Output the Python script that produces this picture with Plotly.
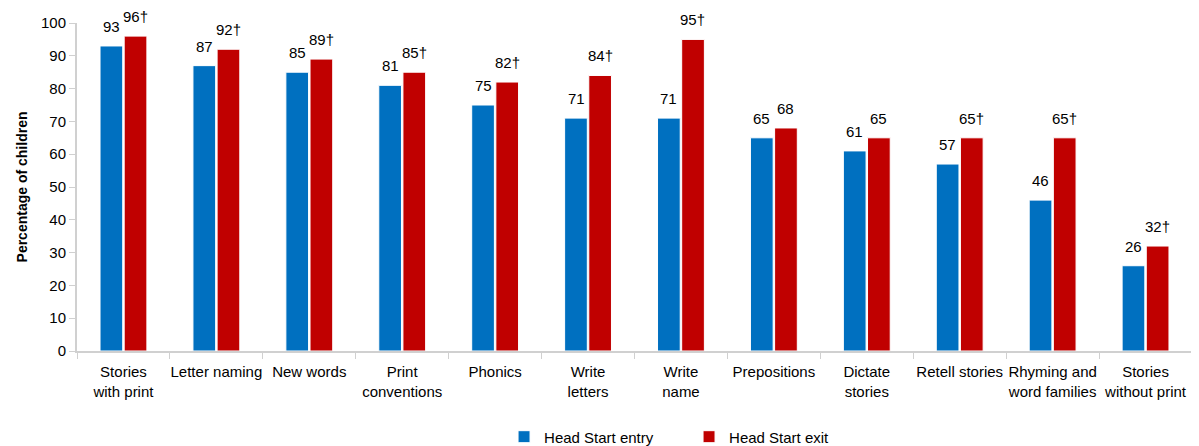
import plotly.graph_objects as go

categories = ["Stories<br>with print", "Letter naming", "New words", "Print<br>conventions",
              "Phonics", "Write<br>letters", "Write<br>name", "Prepositions",
              "Dictate<br>stories", "Retell stories", "Rhyming and<br>word families",
              "Stories<br>without print"]
entry = [93, 87, 85, 81, 75, 71, 71, 65, 61, 57, 46, 26]
exit_ = [96, 92, 89, 85, 82, 84, 95, 68, 65, 65, 65, 32]
exit_sig = [True, True, True, True, True, True, True, False, False, True, True, True]

entry_text = [str(v) for v in entry]
exit_text = [f"{v}†" if s else str(v) for v, s in zip(exit_, exit_sig)]

font = "Liberation Sans, Arial, sans-serif"

fig = go.Figure()
fig.add_trace(go.Bar(x=categories, y=entry, name="Head Start entry",
                     marker=dict(color="#0070C0", line=dict(color="white", width=1))))
fig.add_trace(go.Bar(x=categories, y=exit_, name="Head Start exit",
                     marker=dict(color="#C00000", line=dict(color="white", width=1))))

# value labels above bars
for cat, v, t in zip(categories, entry, entry_text):
    fig.add_annotation(x=cat, y=v, text=t, showarrow=False, xshift=-12, yshift=9,
                       yanchor="bottom", font=dict(size=15, color="black", family=font))
for cat, v, t in zip(categories, exit_, exit_text):
    fig.add_annotation(x=cat, y=v, text=t, showarrow=False, xshift=12, yshift=9,
                       yanchor="bottom", font=dict(size=15, color="black", family=font))

fig.update_layout(
    width=1186, height=438,
    margin=dict(l=69, r=2, t=15, b=95, autoexpand=False),
    plot_bgcolor="white", paper_bgcolor="white",
    barmode="group", bargap=0.48, bargroupgap=0.06,
    font=dict(family=font, size=15, color="black"),
    showlegend=True,
    legend=dict(orientation="h", x=0.383, xanchor="left", y=-0.262, yanchor="middle",
                font=dict(size=15), entrywidth=140, itemwidth=30),
)
fig.update_xaxes(showline=True, linecolor="#d0d0d0", linewidth=2, ticks="outside",
                 tickson="boundaries", ticklen=6, tickcolor="#d0d0d0", tickangle=0,
                 tickfont=dict(size=15), showgrid=False, automargin=False,
                 ticklabelstandoff=6)
fig.update_yaxes(range=[0, 100], dtick=10, showline=True, linecolor="#d0d0d0", linewidth=2,
                 ticks="outside", ticklen=6, tickcolor="#d0d0d0", showgrid=False,
                 tickfont=dict(size=15), zeroline=False, automargin=False,
                 title=dict(text="<b>Percentage of children</b>", font=dict(size=14), standoff=10))

fig.write_html("out.html")
